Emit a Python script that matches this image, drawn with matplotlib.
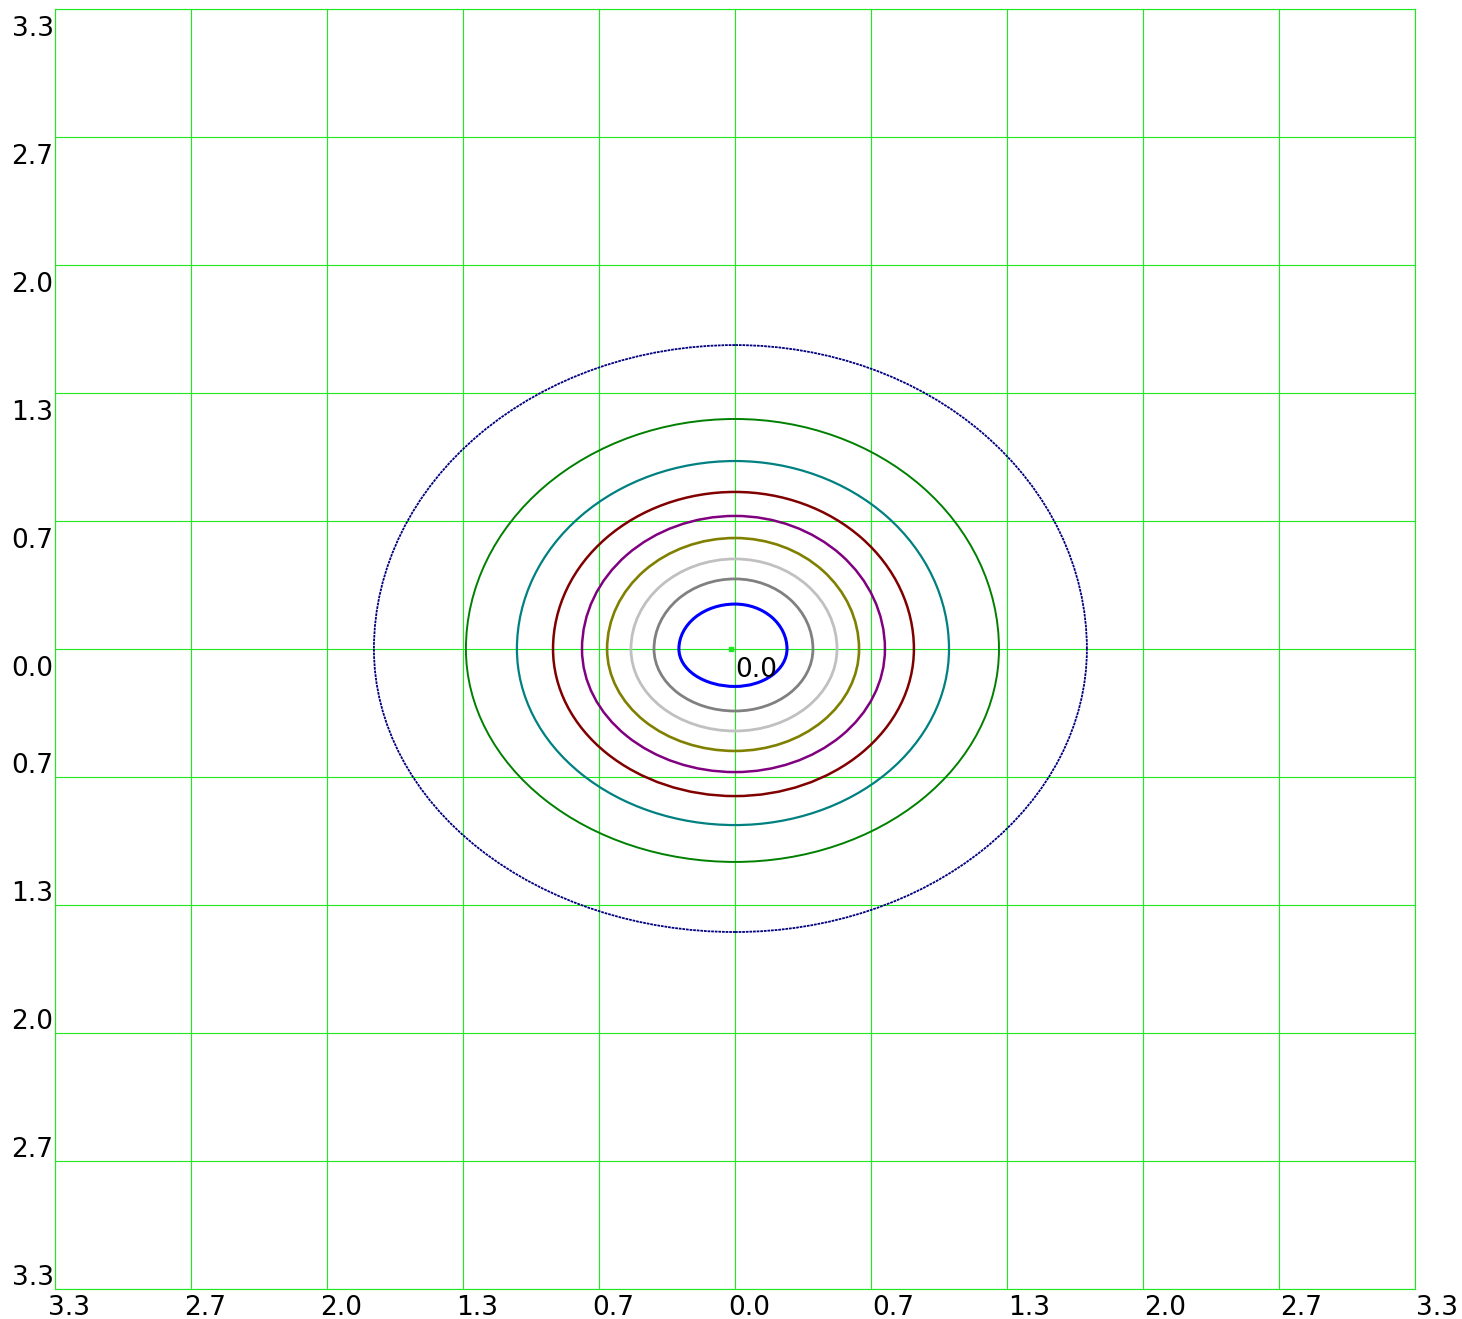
import numpy as np
import matplotlib.pyplot as plt
from matplotlib.patches import Arc
from matplotlib.transforms import ScaledTranslation

# contour extents (left, right, top, bottom distance from centre)
contour_colors = ['#000080', '#008000', '#008080', '#800000', '#800080',
                  '#808000', '#c0c0c0', '#808080', '#0000ff']
left_ext = [1.770, 1.319, 1.069, 0.892, 0.750, 0.627, 0.510, 0.397, 0.275]
right_ext = [1.725, 1.294, 1.049, 0.877, 0.735, 0.608, 0.500, 0.382, 0.255]
top_ext = [1.583, 1.198, 0.979, 0.818, 0.693, 0.578, 0.469, 0.365, 0.234]
bottom_ext = [1.474, 1.109, 0.917, 0.766, 0.641, 0.531, 0.427, 0.323, 0.195]
line_widths = [1.3, 1.4, 1.6, 1.8, 1.8, 1.9, 2.0, 2.0, 2.2]

centre_x, centre_y = -0.02, 0.0

tick_labels = ['3.3', '2.7', '2.0', '1.3', '0.7', '0.0', '0.7', '1.3', '2.0', '2.7', '3.3']
lim = 10 / 3
ticks = np.linspace(-lim, lim, 11)

grid_color = '#1ee81e'

fig = plt.figure(figsize=(14.62, 13.19), dpi=100)
ax = fig.add_axes([55 / 1462, 30 / 1319, 1360 / 1462, 1280 / 1319])
ax.set_xlim(-lim, lim)
ax.set_ylim(-lim, lim)

# each contour built from four quarter arcs (left/right, top/bottom differ)
for c, l, r, t, b, lw in zip(contour_colors, left_ext, right_ext, top_ext, bottom_ext, line_widths):
    ls = (0, (1.5, 0.5)) if c == '#000080' else '-'
    for (w, h, t1, t2) in [(r, t, 0, 90), (l, t, 90, 180), (l, b, 180, 270), (r, b, 270, 360)]:
        ax.add_patch(Arc((0, 0), 2 * w, 2 * h, theta1=t1, theta2=t2,
                         color=c, lw=lw, linestyle=ls, zorder=3))

ax.plot([centre_x], [centre_y], 's', color=grid_color, ms=2.5, zorder=4)
ax.text(0.0, -0.04, '0.0', ha='left', va='top', fontsize=19, zorder=5)

ax.set_xticks(ticks)
ax.set_yticks(ticks)
ax.set_xticklabels(tick_labels, fontsize=19)
ax.set_yticklabels(tick_labels[::-1], fontsize=19)
ax.tick_params(length=0, pad=1)
ax.tick_params(axis='x', pad=4)
for lbl, v in zip(ax.get_xticklabels(), ticks):
    lbl.set_ha('left')
    dx = 1 if v > 0.01 else -7
    lbl.set_transform(lbl.get_transform() + ScaledTranslation(dx / 100, 0, fig.dpi_scale_trans))
for lbl, v in zip(ax.get_yticklabels(), ticks):
    if v > -0.01:
        lbl.set_va('top')
        dy = -7
    else:
        lbl.set_va('bottom')
        dy = -2
    lbl.set_transform(lbl.get_transform() + ScaledTranslation(0, dy / 100, fig.dpi_scale_trans))

ax.grid(True, color=grid_color, lw=0.8)
for s in ax.spines.values():
    s.set_color(grid_color)
    s.set_linewidth(0.8)

fig.savefig('out.png', dpi=100)
